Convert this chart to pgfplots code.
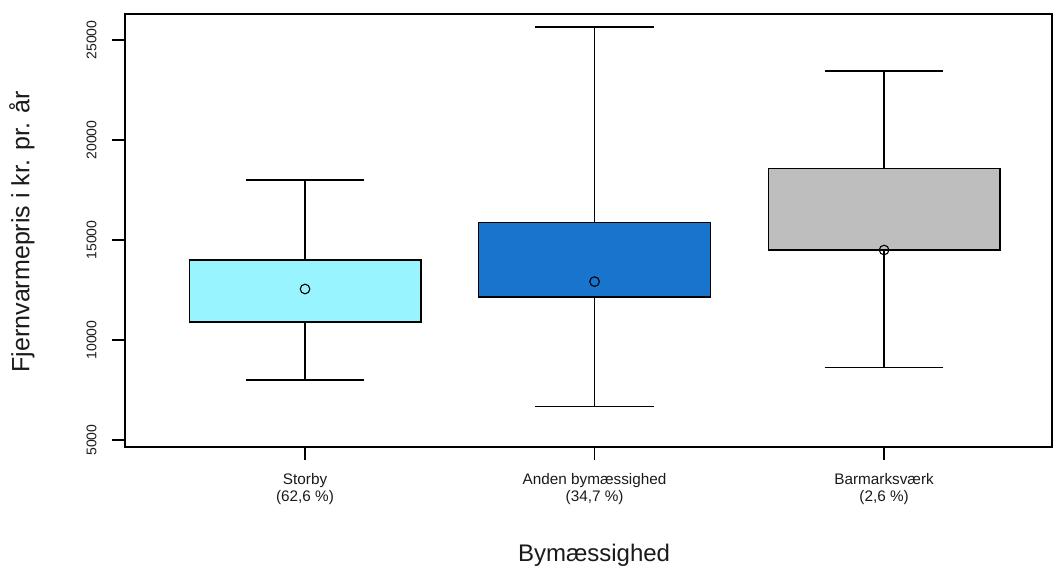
\documentclass[border=0pt]{standalone}
\usepackage{pgfplots}
\pgfplotsset{compat=1.18}
\usepackage{fontspec}
\setmainfont{Liberation Sans}
\definecolor{cStorby}{HTML}{98F5FF}
\definecolor{cAnden}{HTML}{1874CD}
\definecolor{cBarm}{HTML}{BEBEBE}
\definecolor{txt}{HTML}{1A1A1A}
\begin{document}
\begin{tikzpicture}
\begin{axis}[
  scale only axis,
  width=927pt, height=433pt,
  xmin=-0.622, xmax=2.58,
  ymin=4650, ymax=26300,
  scaled y ticks=false,
  clip=false,
  unbounded coords=jump,
  axis line style={line width=1.3pt, black},
  tick align=outside,
  tick pos=left,
  major tick length=13pt,
  tick style={line width=1.3pt, black},
  xtick={0,1,2},
  xticklabels={{Storby\\(62,6 \%)},{Anden bymæssighed\\(34,7 \%)},{Barmarksværk\\(2,6 \%)}},
  xticklabel style={align=center, font=\fontsize{15.3}{16.5}\selectfont, text=txt},
  xticklabel shift=10pt,
  ytick={5000,10000,15000,20000,25000},
  yticklabels={5000,10000,15000,20000,25000},
  yticklabel style={rotate=90, anchor=south, font=\fontsize{14}{17}\selectfont, text=txt},
  yticklabel shift=12pt,
  xlabel={Bymæssighed},
  ylabel={Fjernvarmepris i kr. pr. år},
  every axis x label/.style={at={(axis description cs:0.506,-0.2494)}, anchor=center, font=\fontsize{24}{28}\selectfont, text=txt},
  every axis y label/.style={at={(axis description cs:-0.1111,0.497)}, anchor=center, rotate=90, font=\fontsize{25}{29}\selectfont, text=txt},
  whisk/.style={black, line width=1.3pt, no marks},
  boxst/.style={draw=black, line width=1.3pt, no marks, line join=miter},
]
% Storby: lower whisker 8000, Q1 10900, Q3 14000, upper whisker 18000, mean 12550
\addplot[whisk] coordinates {(0,8000) (0,10900) (nan,nan) (0,14000) (0,18000)};
\addplot[whisk] coordinates {(-0.205,8000) (0.205,8000) (nan,nan) (-0.205,18000) (0.205,18000)};
\addplot[boxst, fill=cStorby] coordinates {(-0.4,10900) (0.4,10900) (0.4,14000) (-0.4,14000)} -- cycle;
% Anden bymaessighed: 6680, 12150, 15880, 25650, mean 12920
\addplot[whisk] coordinates {(1,6680) (1,12150) (nan,nan) (1,15880) (1,25650)};
\addplot[whisk] coordinates {(0.795,6680) (1.205,6680) (nan,nan) (0.795,25650) (1.205,25650)};
\addplot[boxst, fill=cAnden] coordinates {(0.6,12150) (1.4,12150) (1.4,15880) (0.6,15880)} -- cycle;
% Barmarksvaerk: 8630, 14500, 18560, 23450, mean 14500
\addplot[whisk] coordinates {(2,8630) (2,14500) (nan,nan) (2,18560) (2,23450)};
\addplot[whisk] coordinates {(1.795,8630) (2.205,8630) (nan,nan) (1.795,23450) (2.205,23450)};
\addplot[boxst, fill=cBarm] coordinates {(1.6,14500) (2.4,14500) (2.4,18560) (1.6,18560)} -- cycle;
% means
\addplot[only marks, mark=o, mark size=4.8pt, black, line width=1.1pt] coordinates {(0,12550) (1,12920) (2,14500)};
\path (rel axis cs:-0.1348,-0.284) rectangle (rel axis cs:1.0032,1.0323);
\end{axis}
\end{tikzpicture}
\end{document}
